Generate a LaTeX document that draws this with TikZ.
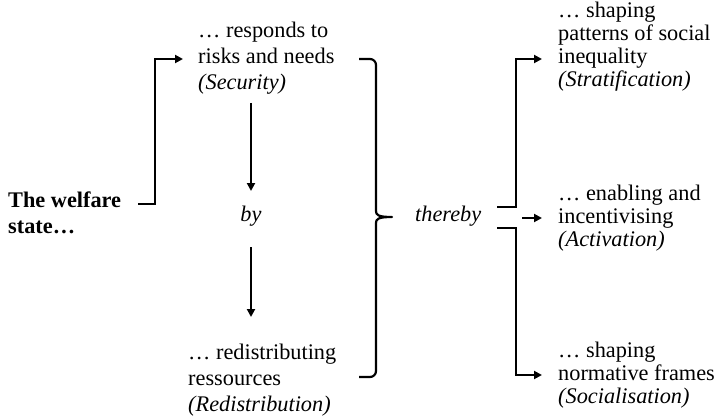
\documentclass[tikz,border=0pt]{standalone}
\usepackage{fontspec}
\setmainfont{Liberation Serif}
\usetikzlibrary{arrows.meta}

% multi-line nodes are anchored at the baseline of their last line
\tikzset{
  txt/.style={inner sep=0pt, anchor=base west, align=left,
    font=\fontsize{22.3}{26}\selectfont},
  txtright/.style={inner sep=0pt, anchor=base west, align=left,
    font=\fontsize{22.3}{23}\selectfont},
  linker/.style={line width=2.2pt, line join=miter},
  arrowline/.style={linker, -{Triangle[length=8pt,width=8pt]}},
}

\begin{document}
\begin{tikzpicture}[x=1pt,y=-1pt]
\useasboundingbox (0,0) rectangle (717,417);

% text blocks
\node[txt, font=\fontsize{22.3}{26.5}\selectfont\bfseries] (welfare) at (8,233.5) {The welfare\\state…};
\node[txt] (security) at (198,90) {… responds to\\risks and needs\\\textit{(Security)}};
\node[txt] (redistr) at (188,411) {… redistributing\\ressources\\\textit{(Redistribution)}};
\node[txt, anchor=base] (by) at (251,221) {\textit{by}};
\node[txt] (thereby) at (415,221) {\textit{thereby}};
\node[txtright] (strat) at (558,87) {… shaping\\patterns of social\\inequality\\\textit{(Stratification)}};
\node[txtright] (activ) at (558,246) {… enabling and\\incentivising\\\textit{(Activation)}};
\node[txtright] (social) at (558,403) {… shaping\\normative frames\\\textit{(Socialisation)}};

% connector end points
\coordinate (wstart) at (138,204);
\coordinate (wend) at (183,59);
\coordinate (bytop) at (251,103);
\coordinate (byabove) at (251,191);
\coordinate (bybelow) at (251,247);
\coordinate (bybottom) at (251,317);
\coordinate (upstart) at (497,207);
\coordinate (midstart) at (522,218);
\coordinate (lowstart) at (497,228);
\coordinate (upend) at (542,59);
\coordinate (midend) at (542,218);
\coordinate (lowend) at (542,375);

% welfare state -> security
\draw[arrowline] (wstart) -- (155,204) -- (155,59) -- (wend);

% security -> by -> redistribution
\draw[arrowline] (bytop) -- (byabove);
\draw[arrowline] (bybelow) -- (bybottom);

% curly brace gathering both functions
\draw[linker, line join=round]
  (359,59) -- (370,59) to[out=0,in=90] (376,65) -- (376,211)
  .. controls (376,215) and (378,217) .. (392,217)
  .. controls (378,217) and (376,219) .. (376,223)
  -- (376,371) to[out=-90,in=0] (370,377) -- (359,377);

% thereby -> three outcomes
\draw[arrowline] (upstart) -- (516,207) -- (516,59) -- (upend);
\draw[arrowline] (midstart) -- (midend);
\draw[arrowline] (lowstart) -- (516,228) -- (516,375) -- (lowend);
\end{tikzpicture}
\end{document}
